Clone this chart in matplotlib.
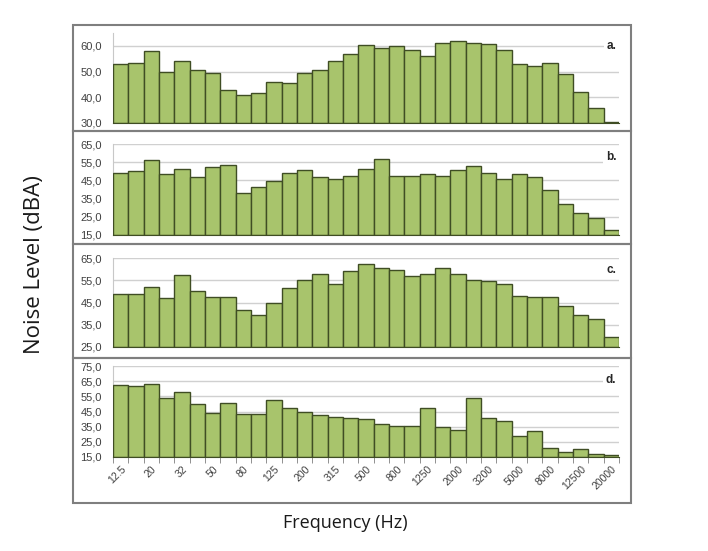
import numpy as np
import matplotlib.pyplot as plt
from matplotlib.patches import Rectangle

# 1/3 octave band centre frequencies (Hz)
bands = ['12.5', '16', '20', '25', '32', '40', '50', '63', '80', '100', '125', '160',
         '200', '250', '315', '400', '500', '630', '800', '1000', '1250', '1600',
         '2000', '2500', '3200', '4000', '5000', '6300', '8000', '10000', '12500',
         '16000', '20000']

level_a = [53.0, 53.5, 58.0, 50.0, 54.0, 50.5, 49.5, 43.0, 41.0, 41.5, 46.0, 45.5,
           49.5, 50.5, 54.0, 57.0, 60.5, 59.0, 60.0, 58.5, 56.0, 61.0, 62.0, 61.0,
           60.7, 58.5, 53.0, 52.0, 53.5, 49.0, 42.0, 36.0, 30.5]
level_b = [49.0, 50.0, 56.0, 48.5, 51.0, 47.0, 52.5, 53.5, 38.0, 41.5, 44.5, 49.0,
           50.5, 47.0, 46.0, 47.5, 51.5, 56.5, 47.5, 47.5, 48.5, 47.5, 50.5, 53.0,
           49.0, 45.5, 48.5, 47.0, 40.0, 32.0, 27.0, 24.5, 18.0]
level_c = [49.0, 49.0, 52.0, 47.0, 57.5, 50.0, 47.5, 47.5, 41.5, 39.5, 45.0, 51.5,
           55.0, 58.0, 53.5, 59.0, 62.5, 60.5, 59.5, 57.0, 58.0, 60.5, 58.0, 55.0,
           54.5, 53.5, 48.0, 47.5, 47.5, 43.5, 39.5, 37.5, 29.5]
level_d = [62.5, 62.0, 63.0, 54.0, 58.0, 50.0, 44.0, 50.5, 43.5, 43.5, 52.5, 47.0,
           44.5, 42.5, 41.5, 40.5, 40.0, 37.0, 35.5, 35.5, 47.0, 34.5, 32.5, 54.0,
           41.0, 39.0, 29.0, 32.0, 21.0, 18.0, 20.5, 17.0, 16.5]

panels = [
    ('a.', level_a, np.arange(30, 61, 10), (30, 65)),
    ('b.', level_b, np.arange(15, 66, 10), (15, 65)),
    ('c.', level_c, np.arange(25, 66, 10), (25, 65)),
    ('d.', level_d, np.arange(15, 76, 10), (15, 75)),
]

W, H = 708, 551
fig = plt.figure(figsize=(W / 100, H / 100), dpi=100)

# pixel layout: boxes (top, bottom) and plot areas (top, bottom)
boxes = [(25, 131), (131, 244), (244, 358), (358, 503)]
plots = [(33, 123), (144, 235), (258, 347), (366, 457)]
x0, x1 = 113, 619
bx0, bx1 = 73, 631

bar_color = '#a8c46c'
edge_color = '#3f4d24'
text_color = '#404040'

for (top, bot) in boxes:
    fig.patches.append(Rectangle((bx0 / W, 1 - bot / H), (bx1 - bx0) / W, (bot - top) / H,
                                 transform=fig.transFigure, fill=False,
                                 edgecolor='#7f7f7f', linewidth=1.5, zorder=0))

x = np.arange(len(bands))
for i, (label, vals, ticks, ylim) in enumerate(panels):
    top, bot = plots[i]
    ax = fig.add_axes([x0 / W, 1 - bot / H, (x1 - x0) / W, (bot - top) / H])
    ax.bar(x, np.array(vals) - ylim[0], width=1.0, bottom=ylim[0], color=bar_color,
           edgecolor=edge_color, linewidth=1.0, zorder=3)
    ax.set_xlim(-0.5, len(bands) - 0.5)
    ax.set_ylim(*ylim)
    ax.set_yticks(ticks)
    ax.set_yticklabels([f'{t:.1f}'.replace('.', ',') for t in ticks],
                       fontsize=8, color=text_color, family='Liberation Sans')
    ax.tick_params(axis='y', length=0, pad=8)
    ax.grid(axis='y', color='#d0d0d0', linewidth=1.0, zorder=0)
    for s in ['top', 'right']:
        ax.spines[s].set_visible(False)
    ax.spines['left'].set_color('#c8c8c8')
    ax.spines['bottom'].set_color(edge_color)
    ax.spines['bottom'].set_zorder(4)
    if i == 3:
        ax.set_xticks(np.arange(-0.5, len(bands), 1.0), minor=True)
        ax.set_xticks(x[::2])
        ax.set_xticklabels(bands[::2], rotation=45, ha='right', va='top',
                           rotation_mode='anchor', fontsize=7.5, color=text_color,
                           family='Liberation Sans')
        ax.tick_params(axis='x', which='major', length=0, pad=5)
        ax.tick_params(axis='x', which='minor', length=4, color='#7f7f7f')
    else:
        ax.set_xticks([])
    ax.text(0.995, 0.86 if i < 3 else 0.85, label, transform=ax.transAxes, ha='right',
            va='center', fontsize=8.5, fontweight='bold', color='#262626',
            family='Liberation Sans', zorder=5,
            bbox=dict(facecolor='white', edgecolor='none', pad=2))

fig.text(35 / W, 1 - 265 / H, 'Noise Level (dBA)', rotation=90, ha='center',
         va='center', fontsize=16, family='Open Sans', color='#1a1a1a')
fig.text(345 / W, 1 - 523 / H, 'Frequency (Hz)', ha='center', va='center',
         fontsize=13, family='Open Sans', color='#1a1a1a')

fig.savefig('out.png', dpi=100)
